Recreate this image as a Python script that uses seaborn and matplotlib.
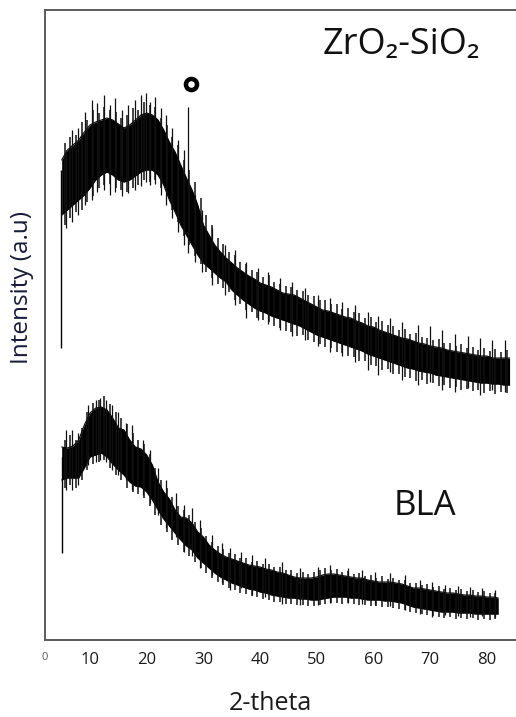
# XRD patterns of ZrO2-SiO2 and BLA
import matplotlib
matplotlib.use("Agg")
import matplotlib.pyplot as plt
import pandas as pd
import seaborn as sns

sns.set_theme(style="white")
plt.rcParams["font.family"] = ["Open Sans", "DejaVu Sans"]

# ── Data (intensity in arbitrary units) ──
# core band of each trace, one value per degree
zr_theta = list(range(5, 85))
zr_hi = [480, 490, 495, 500, 508, 515, 518, 520, 522, 520,
         516, 512, 515, 520, 525, 527, 525, 520, 510, 498,
         488, 475, 462, 450, 435, 415, 405, 395, 388, 382,
         377, 372, 368, 364, 361, 357, 355, 353, 350, 347,
         346, 345, 342, 339, 336, 333, 330, 329, 327, 325,
         323, 322, 319, 317, 314, 313, 310, 308, 306, 304,
         302, 301, 299, 297, 296, 294, 293, 292, 290, 289,
         288, 287, 286, 285, 284, 284, 282, 282, 282, 282]
zr_lo = [425, 430, 435, 440, 445, 452, 460, 465, 468, 465,
         460, 458, 460, 464, 468, 470, 470, 465, 455, 440,
         428, 415, 405, 395, 385, 377, 372, 367, 362, 358,
         350, 345, 340, 336, 332, 329, 327, 324, 322, 320,
         318, 316, 314, 311, 308, 305, 303, 301, 299, 297,
         295, 293, 291, 289, 286, 284, 282, 280, 278, 276,
         274, 272, 271, 269, 268, 267, 265, 264, 263, 262,
         261, 260, 259, 258, 257, 257, 256, 256, 255, 255]
# short noise hairs between the degree marks
zr_hair_x = [v + 0.5 for v in range(5, 84)]
zr_hair_hi = [497, 503, 505, 518, 520, 530, 527, 533, 530, 528,
              522, 525, 532, 530, 538, 535, 533, 522, 515, 503,
              495, 480, 470, 458, 442, 425, 415, 402, 396, 388,
              385, 378, 376, 370, 368, 363, 365, 358, 356, 354,
              353, 350, 349, 345, 344, 340, 340, 336, 336, 331,
              332, 328, 327, 322, 323, 318, 319, 315, 314, 310,
              311, 306, 307, 303, 302, 300, 301, 297, 297, 294,
              296, 292, 293, 290, 292, 289, 291, 288, 290]
zr_hair_lo = [415, 422, 428, 430, 438, 444, 452, 455, 456, 452,
              450, 448, 452, 455, 460, 458, 460, 452, 444, 430,
              418, 404, 395, 384, 376, 368, 362, 356, 352, 348,
              340, 336, 330, 328, 322, 320, 318, 314, 312, 309,
              308, 304, 305, 300, 298, 296, 293, 292, 288, 287,
              284, 283, 279, 279, 275, 274, 270, 271, 266, 266,
              263, 262, 259, 260, 256, 257, 254, 255, 252, 253,
              250, 251, 249, 250, 247, 249, 246, 248, 247]
# long spikes, incl. the sharp reflection near 27 deg
zr_spike_x = [5.8, 6.8, 7.9, 9.1, 10.3, 11.2, 12.5, 13.5, 14.4, 15.6,
              16.7, 17.9, 19.0, 19.9, 20.6, 21.5, 22.5, 23.4, 24.5, 25.5,
              26.6, 27.3, 28.5, 29.8, 31.5, 33.8, 35.6, 37.5, 39.6, 41.4,
              43.5, 45.6, 47.9, 50.2, 52.3, 54.4, 56.7, 59.0, 60.8, 62.9,
              65.0, 67.8, 70.0, 72.1, 74.4, 76.7, 78.8, 80.9, 83.2]
zr_spike_hi = [490, 510, 512, 528, 540, 537, 545, 535, 542, 530,
               535, 540, 545, 547, 538, 543, 532, 525, 512, 500,
               490, 533, 445, 430, 412, 395, 390, 378, 372, 368,
               362, 358, 352, 345, 342, 338, 335, 328, 324, 322,
               318, 315, 314, 310, 306, 304, 302, 300, 300]
zr_spike_lo = [412, 418, 425, 435, 440, 448, 450, 445, 448, 444,
               447, 450, 454, 458, 455, 456, 445, 435, 422, 408,
               395, 387, 378, 368, 355, 345, 335, 322, 320, 316,
               310, 304, 300, 294, 288, 284, 278, 270, 265, 268,
               260, 255, 258, 250, 248, 252, 245, 250, 248]
zr_start = (4.8, 292)

bla_theta = list(range(5, 83))
bla_hi = [193, 192, 194, 200, 215, 227, 232, 233, 230, 222,
          212, 210, 200, 193, 191, 185, 175, 158, 148, 141,
          130, 123, 122, 117, 108, 103, 95, 90, 86, 83,
          81, 79, 77, 75, 74, 73, 71, 70, 68, 67,
          65, 63, 62, 62, 62, 63, 65, 66, 66, 65,
          64, 63, 62, 62, 60, 59, 58, 58, 58, 57,
          56, 54, 52, 52, 51, 50, 49, 48, 47, 47,
          46, 45, 45, 44, 44, 43, 43, 42]
bla_lo = [160, 162, 162, 162, 172, 183, 185, 187, 183, 176,
          170, 165, 158, 154, 153, 148, 140, 130, 121, 114,
          107, 100, 94, 90, 82, 77, 72, 67, 63, 60,
          57, 55, 53, 51, 50, 48, 47, 45, 44, 43,
          42, 42, 41, 41, 40, 40, 41, 42, 43, 43,
          43, 42, 42, 41, 40, 40, 40, 39, 39, 38,
          37, 35, 33, 32, 31, 30, 29, 28, 28, 28,
          27, 27, 27, 26, 26, 26, 26, 26]
bla_hair_x = [v + 0.5 for v in range(5, 82)]
bla_hair_hi = [200, 205, 200, 212, 228, 237, 240, 244, 236, 228,
               222, 216, 207, 200, 196, 186, 172, 160, 152, 143,
               134, 130, 125, 118, 112, 104, 98, 94, 91, 87,
               86, 82, 82, 78, 79, 76, 76, 73, 73, 70,
               70, 67, 68, 66, 68, 70, 72, 70, 71, 68,
               69, 66, 67, 64, 65, 62, 64, 61, 62, 60,
               60, 57, 57, 55, 56, 53, 54, 51, 52, 50,
               51, 49, 50, 48, 49, 47, 47]
bla_hair_lo = [152, 155, 152, 160, 170, 176, 178, 180, 172, 165,
               160, 152, 148, 146, 142, 134, 125, 115, 108, 100,
               95, 88, 84, 78, 72, 67, 62, 58, 55, 52,
               50, 47, 46, 44, 43, 41, 40, 38, 38, 36,
               36, 35, 35, 34, 34, 35, 36, 37, 37, 36,
               37, 36, 35, 35, 34, 34, 33, 33, 32, 31,
               30, 28, 27, 26, 25, 24, 23, 22, 23, 21,
               22, 21, 22, 20, 21, 20, 21]
bla_spike_x = [5.8, 6.8, 7.9, 9.6, 11.1, 11.8, 12.8, 13.9, 15.0, 16.3,
               17.4, 19.3, 20.6, 22.0, 23.4, 25.2, 26.6, 28.0, 29.4, 31.5,
               33.3, 34.7, 36.6, 38.6, 40.9, 43.9, 47.0, 50.2, 52.3, 55.5,
               58.0, 60.3, 62.9, 65.5, 68.2, 70.3, 72.6, 74.9, 77.0, 79.1,
               81.4]
bla_spike_hi = [210, 210, 207, 235, 240, 242, 240, 235, 228, 217,
                215, 200, 190, 172, 160, 147, 135, 132, 120, 105,
                97, 92, 88, 85, 82, 78, 72, 73, 75, 72,
                70, 68, 67, 65, 60, 58, 55, 54, 53, 52,
                50]
bla_spike_lo = [150, 150, 155, 175, 178, 180, 178, 170, 165, 160,
                150, 145, 137, 125, 112, 103, 88, 84, 72, 65,
                57, 50, 52, 45, 43, 36, 35, 35, 37, 37,
                36, 35, 34, 30, 26, 23, 25, 24, 23, 24,
                23]
bla_start = (5.05, 87)

ticks = [10, 20, 30, 40, 50, 60, 70, 80]
peak_mark = (27.8, 556)


def draw_pattern(ax, theta, hi, lo, hairs, spikes, start):
    df = pd.DataFrame({"theta": theta, "hi": hi, "lo": lo})
    ax.fill_between(df["theta"], df["lo"], df["hi"], color="black", lw=0, zorder=2)
    sns.lineplot(data=df, x="theta", y="hi", color="black", lw=0.8, ax=ax, zorder=3)
    sns.lineplot(data=df, x="theta", y="lo", color="black", lw=0.8, ax=ax, zorder=3)
    ax.vlines(hairs[0], hairs[2], hairs[1], color="#111111", lw=1.1, zorder=3)
    ax.vlines(spikes[0], spikes[2], spikes[1], color="#111111", lw=0.9, zorder=3)
    ax.vlines(start[0], start[1], hi[0] - 10, color="black", lw=1.0, zorder=3)


fig = plt.figure(figsize=(5.16, 7.17), dpi=100)
ax = fig.add_axes([45 / 516, 77 / 717, 485 / 516, 630 / 717])

draw_pattern(ax, zr_theta, zr_hi, zr_lo,
             (zr_hair_x, zr_hair_hi, zr_hair_lo),
             (zr_spike_x, zr_spike_hi, zr_spike_lo), zr_start)
draw_pattern(ax, bla_theta, bla_hi, bla_lo,
             (bla_hair_x, bla_hair_hi, bla_hair_lo),
             (bla_spike_x, bla_spike_hi, bla_spike_lo), bla_start)

ax.plot(*peak_mark, marker="o", ms=8, mfc="white", mec="black", mew=3.2, zorder=4)

ax.set_xlim(2.06, 87.6)
ax.set_ylim(0, 630)
ax.set_xticks(ticks)
ax.set_xticklabels([str(t) for t in ticks])
ax.set_yticks([])
ax.tick_params(axis="x", length=0, pad=9, labelsize=12, labelcolor="#1a1a1a")
ax.set_xlabel("")
ax.set_ylabel("")
for side in ["left", "top", "bottom", "right"]:
    ax.spines[side].set_color("#5a5a5a")
    ax.spines[side].set_linewidth(1.4)

ax.text(65.0, 595, "ZrO\u2082-SiO\u2082", fontsize=26, ha="center", va="center", color="#111111")
ax.text(69.1, 134, "BLA", fontsize=25, ha="center", va="center", color="#111111")

fig.text(45 / 516, 1 - 658 / 717, "0", fontsize=8, ha="center", va="center", color="#555555")
fig.text(270 / 516, 1 - 704 / 717, "2-theta", fontsize=18, ha="center", va="center", color="#1a1a1a")
fig.text(22 / 516, 1 - 288 / 717, "Intensity (a.u)", fontsize=17.5, rotation=90,
         ha="center", va="center", color="#1a1a3a")

fig.savefig("out.png", dpi=100)
